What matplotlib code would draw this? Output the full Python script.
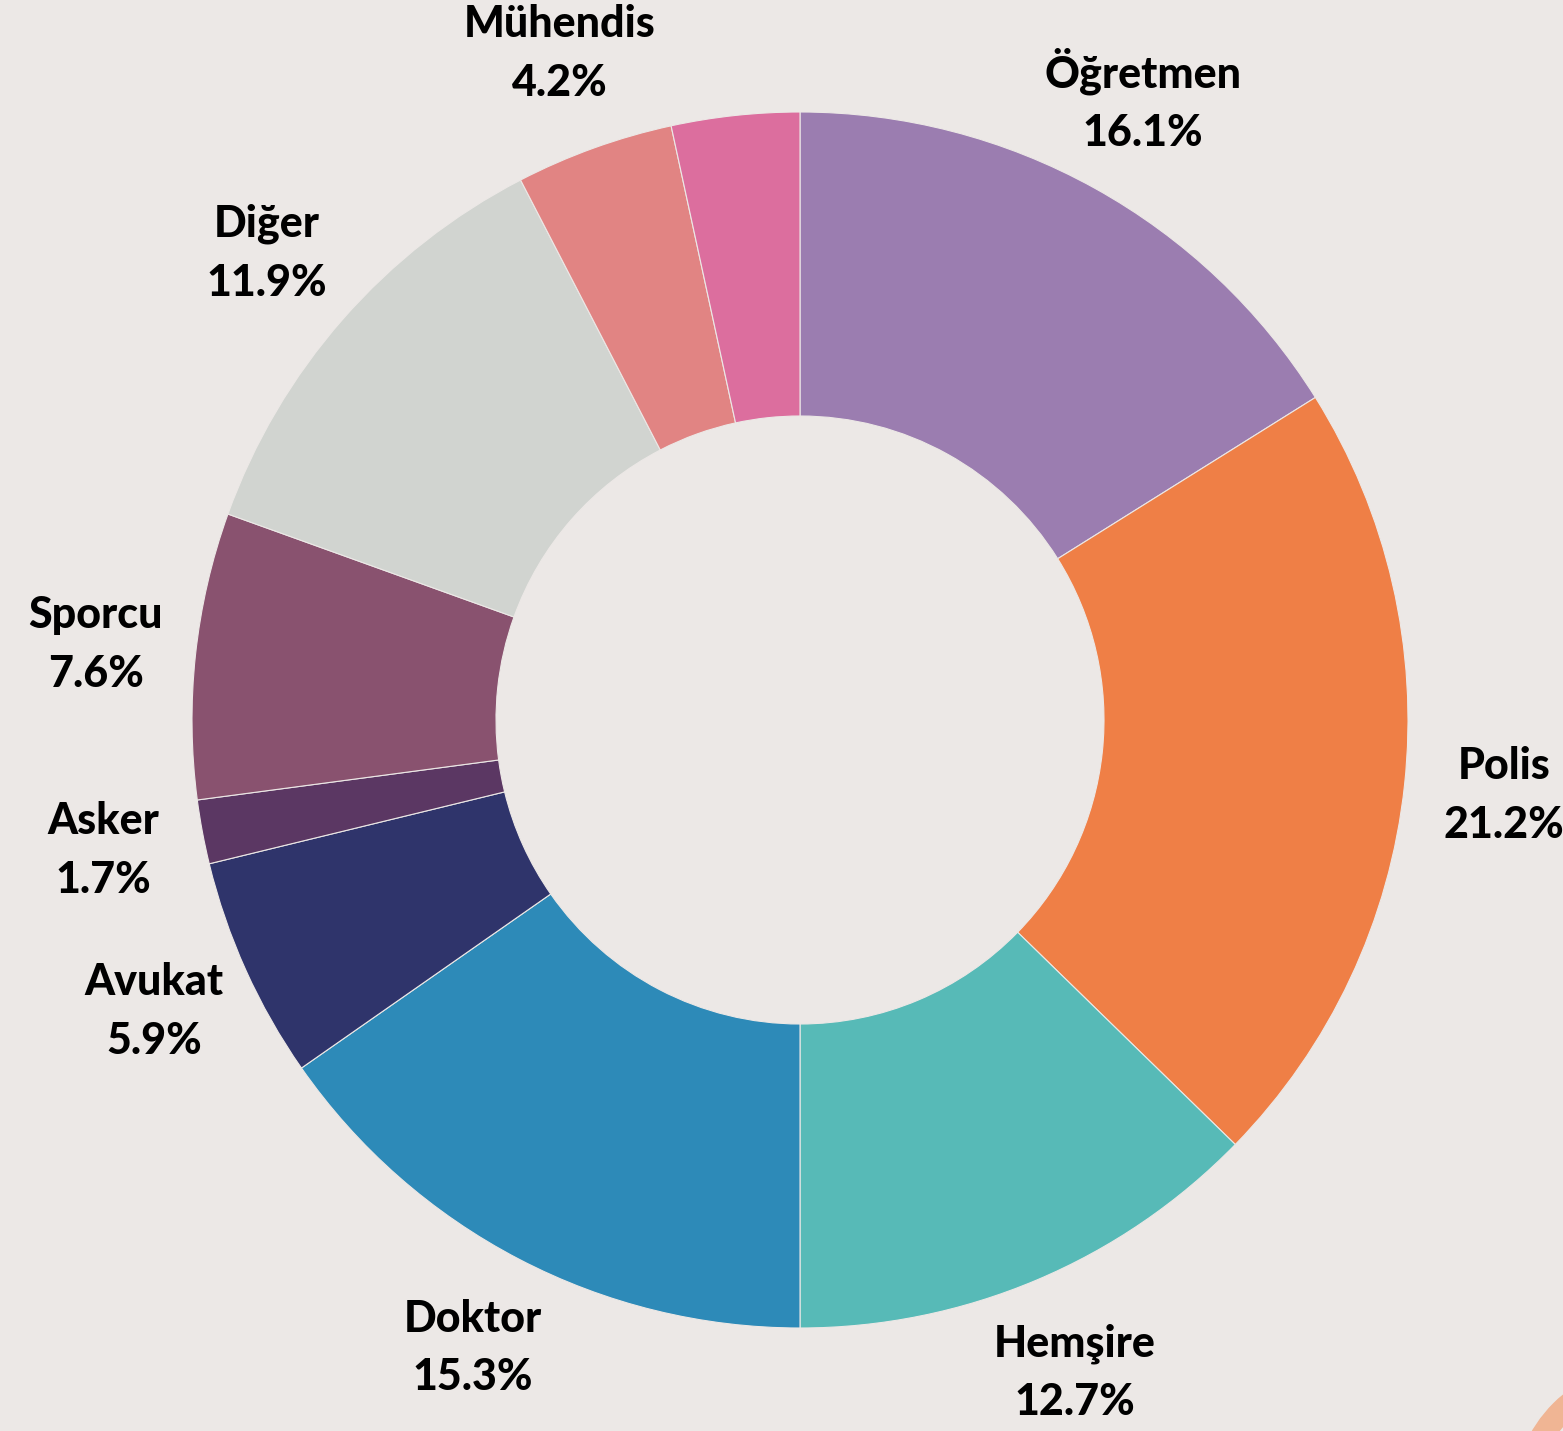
import matplotlib
matplotlib.use("Agg")
import matplotlib.pyplot as plt
from matplotlib.patches import Wedge

# meslek dağılımı (%)
labels = ["Öğretmen", "Polis", "Hemşire", "Doktor", "Avukat", "Asker",
          "Sporcu", "Diğer", "Mühendis", ""]
values = [16.1, 21.2, 12.7, 15.3, 5.9, 1.7, 7.6, 11.9, 4.2, 3.4]
colors = ["#9B7DB0", "#EF7F46", "#57BAB7", "#2D8AB8", "#2F346B", "#5B3763",
          "#89526F", "#D1D4D0", "#E18483", "#DC6E9E"]

bg = "#ECE8E6"
plt.rcParams['font.family'] = ['Lato', 'DejaVu Sans']

fig = plt.figure(figsize=(15.63, 14.31), dpi=100, facecolor=bg)
ax = fig.add_axes([0, 0, 1, 1])
ax.set_facecolor(bg)

texts = [f"{l}\n{v}%" if l else "" for l, v in zip(labels, values)]
ax.pie(values, labels=texts, colors=colors, startangle=90, counterclock=False,
       radius=1, labeldistance=1.165,
       wedgeprops=dict(width=0.5, edgecolor=bg, linewidth=0.8),
       textprops=dict(ha='center', va='center', fontsize=31,
                      fontweight='black', color='black', linespacing=1.55))

# decorative ring fragment in the corner
ax.add_patch(Wedge((1.398, -1.283), 0.224, 0, 360, width=0.036,
                   color="#F0B594"))

ax.set_xlim(-800 / 608, 763 / 608)
ax.set_ylim(-711 / 608, 720 / 608)
ax.set_aspect('equal')
ax.axis('off')

fig.savefig("out.png", dpi=100, facecolor=bg)
